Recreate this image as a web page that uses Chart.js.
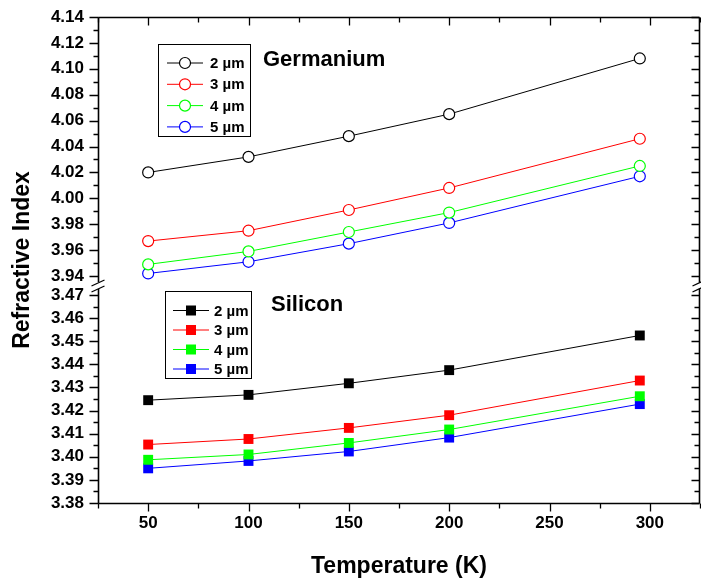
<!DOCTYPE html>
<html>
<head>
<meta charset="utf-8">
<script src="https://cdn.jsdelivr.net/npm/chart.js@4"></script>
<style>
  html, body { margin: 0; padding: 0; background: #fff; }
  #wrap { width: 701px; height: 584px; }
</style>
</head>
<body>
<div id="wrap"><canvas id="chart" width="701" height="584"></canvas></div>
<script>
const FONT = "'Liberation Sans', Arial, sans-serif";

const temps = [50, 100, 150, 200, 295];
const wavelengths = ["2 µm", "3 µm", "4 µm", "5 µm"];
const seriesColors = ["#000000", "#ff0000", "#00ff00", "#0000ff"];

// germanium, one array per wavelength
const ge2um = [4.020, 4.032, 4.048, 4.065, 4.108];
const ge3um = [3.967, 3.975, 3.991, 4.008, 4.046];
const ge4um = [3.949, 3.959, 3.974, 3.989, 4.025];
const ge5um = [3.942, 3.951, 3.965, 3.981, 4.017];

// silicon
const si2um = [3.4245, 3.4268, 3.4318, 3.4375, 3.4525];
const si3um = [3.4053, 3.4077, 3.4125, 3.4180, 3.4330];
const si4um = [3.3987, 3.4010, 3.4060, 3.4118, 3.4262];
const si5um = [3.3950, 3.3982, 3.4023, 3.4083, 3.4228];

const geTicks = [3.94, 3.96, 3.98, 4.00, 4.02, 4.04, 4.06, 4.08, 4.10, 4.12, 4.14];
const siTicks = [3.38, 3.39, 3.40, 3.41, 3.42, 3.43, 3.44, 3.45, 3.46, 3.47];
const tempTicks = [50, 100, 150, 200, 250, 300];

const toPoints = vals => temps.map((t, i) => ({ x: t, y: vals[i] }));

const geSets = [ge2um, ge3um, ge4um, ge5um].map((vals, i) => ({
  label: "Ge " + wavelengths[i],
  data: toPoints(vals),
  yAxisID: "yGe",
  borderColor: seriesColors[i],
  borderWidth: 1,
  pointStyle: "circle",
  pointRadius: 5.5,
  pointBackgroundColor: "#ffffff",
  pointBorderColor: seriesColors[i],
  pointBorderWidth: 1.2,
  tension: 0,
}));

const siSets = [si2um, si3um, si4um, si5um].map((vals, i) => ({
  label: "Si " + wavelengths[i],
  data: toPoints(vals),
  yAxisID: "ySi",
  borderColor: seriesColors[i],
  borderWidth: 1,
  pointStyle: "rect",
  pointRadius: 7,
  pointBackgroundColor: seriesColors[i],
  pointBorderColor: seriesColors[i],
  pointBorderWidth: 0,
  tension: 0,
}));

const tickFont = { family: FONT, size: 17, weight: "bold" };

function fixedTicks(list) {
  return scale => { scale.ticks = list.map(v => ({ value: v })); };
}

// keep the plot box where it is: no extra room for overhanging labels
function fixBox(size) {
  return scale => {
    if (scale.isHorizontal()) scale.height = size;
    else scale.width = size;
    scale.paddingTop = scale.paddingBottom = 0;
    scale.paddingLeft = scale.paddingRight = 0;
  };
}

// frame, mirrored ticks, axis break, legends and captions
const decorations = {
  id: "decorations",
  afterDraw(chart) {
    const ctx = chart.ctx;
    const { left, right, top, bottom } = chart.chartArea;
    const x = chart.scales.x;
    const yGe = chart.scales.yGe;
    const ySi = chart.scales.ySi;
    const L = Math.round(left) + 0.5;
    const R = Math.round(right) - 0.5;
    const T = Math.round(top) + 0.5;
    const B = Math.round(bottom) + 0.5;
    const breakY = Math.round(yGe.bottom);

    ctx.save();
    ctx.strokeStyle = "#000";
    ctx.lineWidth = 1.6;
    ctx.beginPath();
    // top and bottom
    ctx.moveTo(L, T); ctx.lineTo(R, T);
    ctx.moveTo(L, B); ctx.lineTo(R, B);
    // left and right, interrupted at the break
    ctx.moveTo(L, T); ctx.lineTo(L, breakY - 3);
    ctx.moveTo(L, breakY + 4); ctx.lineTo(L, B);
    ctx.moveTo(R, T); ctx.lineTo(R, breakY - 3);
    ctx.moveTo(R, breakY + 4); ctx.lineTo(R, B);
    ctx.stroke();

    ctx.lineWidth = 1.3;
    ctx.beginPath();
    // x ticks every 25 K, longer every 50 K
    for (let t = 25; t <= 325; t += 25) {
      const px = Math.round(x.getPixelForValue(t)) + 0.5;
      const len = t % 50 === 0 ? 8 : 5;
      ctx.moveTo(px, B); ctx.lineTo(px, B + len);
      ctx.moveTo(px, T); ctx.lineTo(px, T + len);
    }
    // y ticks: majors on the labels, one minor in between
    const yTicks = (scale, list, half) => {
      list.forEach((v, i) => {
        const py = Math.round(scale.getPixelForValue(v)) + 0.5;
        ctx.moveTo(L - 9, py); ctx.lineTo(L, py);
        ctx.moveTo(R, py); ctx.lineTo(R - 8, py);
        if (i < list.length - 1) {
          const my = Math.round(scale.getPixelForValue(v + half)) + 0.5;
          ctx.moveTo(L - 5, my); ctx.lineTo(L, my);
          ctx.moveTo(R, my); ctx.lineTo(R - 5, my);
        }
      });
    };
    yTicks(yGe, geTicks, 0.01);
    yTicks(ySi, siTicks, 0.005);
    ctx.stroke();

    // break marks on both axes
    [L, R].forEach(ax => {
      ctx.beginPath();
      ctx.moveTo(ax - 7, breakY + 1); ctx.lineTo(ax + 6, breakY - 5);
      ctx.moveTo(ax - 7, breakY + 7); ctx.lineTo(ax + 6, breakY + 1);
      ctx.stroke();
    });

    // y title spanning both segments
    ctx.fillStyle = "#000";
    ctx.font = "bold 23px " + FONT;
    ctx.textAlign = "center";
    ctx.textBaseline = "middle";
    ctx.save();
    ctx.translate(23, (top + bottom) / 2);
    ctx.rotate(-Math.PI / 2);
    ctx.fillText("Refractive Index", 0, 0);
    ctx.restore();

    ctx.font = "bold 22px " + FONT;
    ctx.textAlign = "left";
    ctx.fillText("Germanium", 263, 60);
    ctx.fillText("Silicon", 271, 305);

    // legends
    const legend = (sets, box, rowY, rowGap, lineX0, lineX1, textX) => {
      ctx.lineWidth = 1;
      ctx.strokeStyle = "#000";
      ctx.strokeRect(box[0] + 0.5, box[1] + 0.5, box[2], box[3]);
      ctx.font = "bold 15px " + FONT;
      sets.forEach((ds, i) => {
        const y = rowY + i * rowGap;
        const mx = (lineX0 + lineX1) / 2;
        ctx.strokeStyle = ds.borderColor;
        ctx.lineWidth = 1;
        ctx.beginPath();
        ctx.moveTo(lineX0, y); ctx.lineTo(lineX1, y);
        ctx.stroke();
        if (ds.pointStyle === "circle") {
          ctx.beginPath();
          ctx.arc(mx, y, 5.5, 0, Math.PI * 2);
          ctx.fillStyle = "#fff";
          ctx.fill();
          ctx.lineWidth = 1.2;
          ctx.stroke();
        } else {
          ctx.fillStyle = ds.pointBackgroundColor;
          ctx.fillRect(mx - 5, y - 5, 10, 10);
        }
        ctx.fillStyle = "#000";
        ctx.fillText(wavelengths[i], textX, y + 1);
      });
    };
    legend(chart.data.datasets.slice(0, 4), [158, 44, 92, 92], 63, 21.3, 167, 203, 210);
    legend(chart.data.datasets.slice(4), [165, 291, 86, 87], 310.5, 19.5, 173, 209, 214);
    ctx.restore();
  },
};

new Chart(document.getElementById("chart"), {
  type: "line",
  data: { datasets: [...geSets, ...siSets] },
  options: {
    responsive: false,
    animation: false,
    events: [],
    layout: { autoPadding: false, padding: { top: 17, right: 1, left: 0, bottom: 0 } },
    plugins: { legend: { display: false }, tooltip: { enabled: false } },
    scales: {
      x: {
        type: "linear",
        min: 25,
        max: 325,
        afterBuildTicks: fixedTicks(tempTicks),
        grid: { display: false, drawTicks: false },
        border: { display: false },
        ticks: { color: "#000", font: tickFont, padding: 10, maxRotation: 0 },
        title: {
          display: true,
          text: "Temperature (K)",
          color: "#000",
          font: { family: FONT, size: 23, weight: "bold" },
          padding: { top: 0, bottom: 4 },
        },
        afterFit: fixBox(81),
      },
      ySi: {
        type: "linear",
        position: "left",
        stack: "index",
        stackWeight: 217,
        min: 3.38,
        max: 3.4743,
        afterBuildTicks: fixedTicks(siTicks),
        grid: { display: false, drawTicks: false },
        border: { display: false },
        ticks: { color: "#000", font: tickFont, padding: 14, autoSkip: false, callback: v => v.toFixed(2) },
        afterFit: fixBox(98),
      },
      yGe: {
        type: "linear",
        position: "left",
        stack: "index",
        stackWeight: 267,
        min: 3.933,
        max: 4.14,
        afterBuildTicks: fixedTicks(geTicks),
        grid: { display: false, drawTicks: false },
        border: { display: false },
        ticks: { color: "#000", font: tickFont, padding: 14, autoSkip: false, callback: v => v.toFixed(2) },
        afterFit: fixBox(98),
      },
    },
  },
  plugins: [decorations],
});
</script>
</body>
</html>
